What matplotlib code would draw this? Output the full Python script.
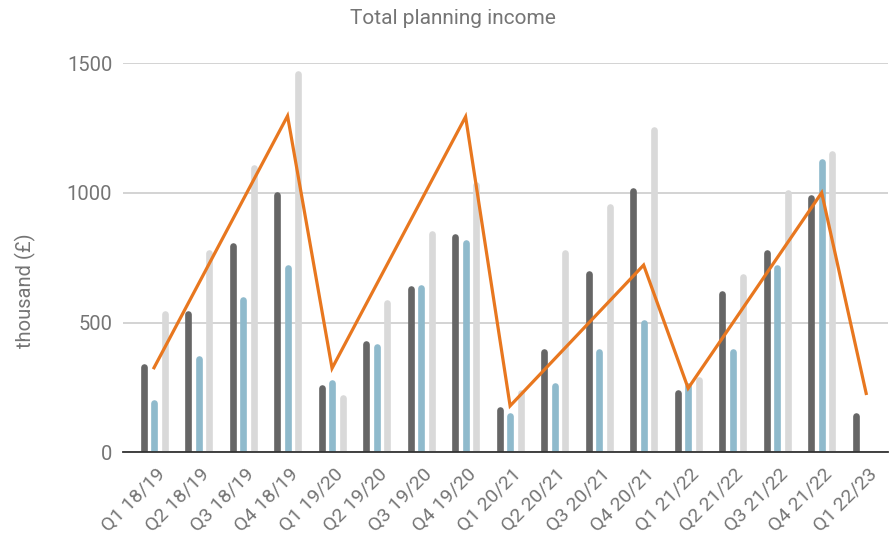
import numpy as np
import pandas as pd
import matplotlib
matplotlib.use('Agg')
import matplotlib.pyplot as plt
from matplotlib.transforms import ScaledTranslation

# quarters on the x axis
quarters = ['Q1 18/19', 'Q2 18/19', 'Q3 18/19', 'Q4 18/19',
            'Q1 19/20', 'Q2 19/20', 'Q3 19/20', 'Q4 19/20',
            'Q1 20/21', 'Q2 20/21', 'Q3 20/21', 'Q4 20/21',
            'Q1 21/22', 'Q2 21/22', 'Q3 21/22', 'Q4 21/22',
            'Q1 22/23']
# three bar series (thousand pounds)
dark_vals = [343, 545, 808, 1005, 262, 430, 641, 844, 176, 398, 700, 1020, 243, 622, 783, 992, 154]
blue_vals = [202, 371, 600, 722, 281, 418, 648, 821, 154, 270, 398, 513, 270, 398, 722, 1134, np.nan]
light_vals = [545, 783, 1108, 1471, 221, 587, 856, 1043, 243, 783, 957, 1256, 292, 688, 1011, 1162, np.nan]
# orange line, only Q1 and Q4 points are given
line_vals = [326, None, None, 1297, 324, None, None, 1294, 179, None, None, 722,
             247, None, None, 1001, 227]

plt.rcParams['font.family'] = ['Roboto', 'DejaVu Sans']
grey_txt = '#757575'

fig = plt.figure(figsize=(8.9, 5.4), dpi=100)
ax = fig.add_axes([123.3 / 890, 1 - 452.3 / 540, (888 - 123.3) / 890, (452.3 - 63.3) / 540])

x = np.arange(len(quarters))
off = 0.236  # spacing between bars inside a group
lw = 4.8
# pull the bars down by the round cap so the cap top sits on the value
cap_shift = ax.transData + ScaledTranslation(0, -lw / 2 / 72, fig.dpi_scale_trans)
for vals, col, dx in [(dark_vals, '#666666', -off), (blue_vals, '#8fbacc', 0), (light_vals, '#d9d9d9', off)]:
    v = np.array(vals, dtype=float)
    ok = ~np.isnan(v)
    lc = ax.vlines(x[ok] + dx, 0, v[ok], colors=col, linewidth=lw, zorder=2, transform=cap_shift)
    lc.set_capstyle('round')

s = pd.Series(line_vals, index=x, dtype=float).dropna()
ax.plot(s.index, s.values, color='#e8771f', linewidth=2.3, zorder=3, solid_joinstyle='miter')

ax.set_xlim(-0.69, 16.49)
ax.set_ylim(0, 1500)
ax.set_yticks([0, 500, 1000, 1500])
ax.yaxis.grid(True, color='#cccccc', linewidth=1.2, zorder=0)
ax.set_axisbelow(True)
for sp in ['top', 'right', 'left']:
    ax.spines[sp].set_visible(False)
ax.spines['bottom'].set_color('#333333')
ax.spines['bottom'].set_linewidth(1.3)
ax.spines['bottom'].set_zorder(4)
ax.tick_params(axis='y', length=0, pad=8, labelsize=14.5, labelcolor=grey_txt)
ax.tick_params(axis='x', length=0, pad=14, labelsize=14, labelcolor=grey_txt)

ax.set_xticks(x)
ax.set_xticklabels(quarters, rotation=45, ha='right', va='center', rotation_mode='anchor')
shift = ScaledTranslation(8 / 100, 0, fig.dpi_scale_trans)
for lab in ax.get_xticklabels():
    lab.set_transform(lab.get_transform() + shift)

fig.text(453 / 890, 1 - 18 / 540, 'Total planning income', ha='center', va='center',
         fontsize=15, color=grey_txt)
fig.text(25 / 890, 1 - 291 / 540, 'thousand (£)', ha='center', va='center', rotation=90,
         fontsize=14.5, color=grey_txt)

fig.savefig('out.png', dpi=100)
plt.close()
